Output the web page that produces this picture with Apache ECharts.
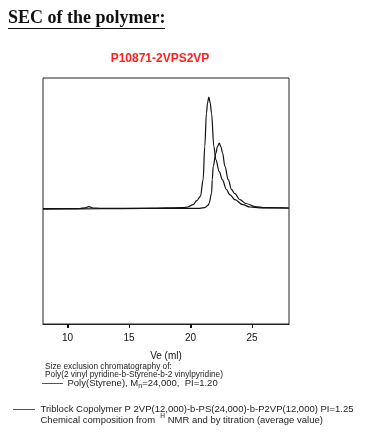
<!DOCTYPE html>
<html>
<head>
<meta charset="utf-8">
<script src="https://cdn.jsdelivr.net/npm/echarts@6/dist/echarts.min.js"></script>
<style>
html,body{margin:0;padding:0;background:#fff;}
#chart{width:371px;height:438px;}
</style>
</head>
<body>
<div id="chart"></div>
<script>
// Elution volume (ml) and detector signal (arbitrary units, baseline = 0)
const veTriblock = [8.0, 10.19, 11.0, 11.41, 11.73, 12.06, 12.63, 16.69, 19.39, 19.77, 20.2, 20.5, 20.8, 21.02, 21.15, 21.29, 21.38, 21.48, 21.59, 21.7, 21.89, 22.05, 22.33, 22.58, 22.92, 23.19, 23.6, 24.25, 24.82, 25.63, 27.98];
const sigTriblock = [-0.07, -0.07, -0.05, 0.01, 0.14, 0.0, -0.03, -0.02, 0.03, 0.1, 0.33, 0.73, 1.16, 2.83, 6.16, 9.5, 10.53, 11.1, 10.53, 9.5, 6.16, 4.83, 3.63, 2.83, 1.83, 1.33, 0.83, 0.33, 0.1, 0.02, 0.0];
const vePS = [8.0, 11.0, 14.25, 18.32, 20.76, 21.16, 21.43, 21.51, 21.71, 21.76, 21.84, 22.06, 22.18, 22.33, 22.46, 22.6, 22.79, 23.06, 23.33, 23.6, 24.01, 24.5, 25.23, 26.04, 27.98];
const sigPS = [-0.12, -0.09, -0.06, -0.04, -0.03, 0.04, 0.28, 0.5, 1.5, 2.83, 4.16, 5.5, 6.13, 6.5, 6.13, 5.5, 4.16, 2.83, 1.83, 1.43, 0.83, 0.45, 0.15, 0.03, -0.01];
const xTicks = [10, 15, 20, 25];
const pageTitle = 'SEC of the polymer:';
const chartTitle = 'P10871-2VPS2VP';
const xName = 'Ve (ml)';
const noteLines = ['Size exclusion chromatography of:', 'Poly(2 vinyl pyridine-b-Styrene-b-2 vinylpyridine)'];
const seriesNames = ['Poly(Styrene), Mn=24,000,  PI=1.20', 'Triblock Copolymer P 2VP(12,000)-b-PS(24,000)-b-P2VP(12,000) PI=1.25'];

const zip = (a, b) => a.map((v, i) => [v, b[i]]);
const FONT = 'Liberation Sans, Arial, sans-serif';
const Y_MIN = -11.6, Y_MAX = 13.0;

const chart = echarts.init(document.getElementById('chart'), null, {renderer: 'canvas'});
chart.setOption({
  animation: false,
  backgroundColor: '#fff',
  grid: {left: 43, top: 78, width: 246, height: 246, show: true, borderColor: '#222', borderWidth: 1, backgroundColor: 'transparent'},
  xAxis: {
    type: 'value', position: 'bottom', min: 8, max: 28, splitNumber: 4,
    name: xName, nameLocation: 'middle', nameGap: 27,
    nameTextStyle: {fontFamily: FONT, fontSize: 10, color: '#111'},
    axisLine: {show: true, onZero: false, lineStyle: {color: '#222', width: 1}},
    splitLine: {show: false},
    axisTick: {show: true, inside: false, length: 4, lineStyle: {color: '#111', width: 1}},
    axisLabel: {show: true, showMinLabel: false, showMaxLabel: false, margin: 9, fontFamily: FONT, fontSize: 10, color: '#111',
      formatter: v => (xTicks.indexOf(v) >= 0 ? String(v) : '')}
  },
  yAxis: {
    type: 'value', min: Y_MIN, max: Y_MAX,
    axisLine: {show: false, onZero: false}, axisTick: {show: false}, axisLabel: {show: false}, splitLine: {show: false}
  },
  series: [
    {name: seriesNames[1], type: 'line', data: zip(veTriblock, sigTriblock), showSymbol: false, smooth: 0.35, smoothMonotone: 'x', lineStyle: {color: '#111', width: 1.2}},
    {name: seriesNames[0], type: 'line', data: zip(vePS, sigPS), showSymbol: false, smooth: 0.35, smoothMonotone: 'x', lineStyle: {color: '#111', width: 1.2}}
  ],
  graphic: [
    {id: 'pageTitle', type: 'text', left: 8, top: 9, style: {text: pageTitle, font: 'bold 18px "Liberation Serif", "Times New Roman", serif', fill: '#111'}},
    {id: 'underline', type: 'line', shape: {x1: 8, y1: 28.5, x2: 165, y2: 28.5}, style: {stroke: '#111', lineWidth: 1}},
    {id: 'chartTitle', type: 'text', x: 160, y: 59, style: {text: chartTitle, font: 'bold 12px ' + FONT, fill: '#ff2020', align: 'center', verticalAlign: 'middle'}},
    {id: 'note0', type: 'text', x: 45, y: 366.5, style: {text: noteLines[0], font: '8.3px ' + FONT, fill: '#222', verticalAlign: 'middle'}},
    {id: 'note1', type: 'text', x: 45, y: 374.5, style: {text: noteLines[1], font: '8.3px ' + FONT, fill: '#222', verticalAlign: 'middle'}},
    {id: 'leg0line', type: 'line', shape: {x1: 42, y1: 383.5, x2: 63, y2: 383.5}, style: {stroke: '#555', lineWidth: 1}},
    {id: 'leg0text', type: 'text', x: 67.5, y: 383.5, style: {
      text: '{a|Poly(Styrene), M}{s|n}{a|=24,000,  PI=1.20}',
      verticalAlign: 'middle',
      rich: {a: {font: '9.5px ' + FONT, fill: '#222'}, s: {font: '7px ' + FONT, fill: '#222', padding: [6, 0, 0, 0]}}
    }},
    {id: 'leg1line', type: 'line', shape: {x1: 13, y1: 409.5, x2: 35, y2: 409.5}, style: {stroke: '#555', lineWidth: 1}},
    {id: 'leg1text', type: 'text', x: 40.5, y: 409, style: {text: seriesNames[1], font: '9.5px ' + FONT, fill: '#222', verticalAlign: 'middle'}},
    {id: 'leg1text2', type: 'text', x: 40.5, y: 420, style: {
      text: '{a|Chemical composition from  }{h|H}{a| NMR and by titration (average value)}',
      verticalAlign: 'middle',
      rich: {a: {font: '9.5px ' + FONT, fill: '#222'}, h: {font: '6.5px ' + FONT, fill: '#222', padding: [0, 0, 7, 0]}}
    }}
  ]
});

// Tick marks positioned through the chart's own x scale (added with new ids)
const tickMarks = xTicks.map((v, i) => {
  const p = chart.convertToPixel({gridIndex: 0}, [v, Y_MIN]);
  const x = Math.round(p[0]) + 0.5;
  return {id: 'xtick' + i, type: 'line', z: 100, shape: {x1: x, y1: p[1], x2: x, y2: p[1] + 4}, style: {stroke: '#111', lineWidth: 1}};
});
chart.setOption({graphic: tickMarks});
</script>
</body>
</html>
